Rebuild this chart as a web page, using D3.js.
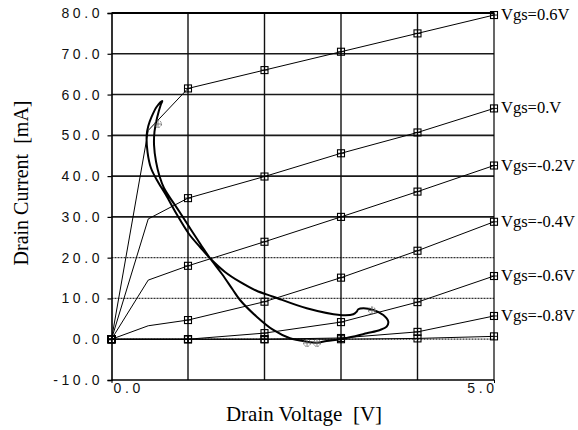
<!DOCTYPE html>
<html>
<head>
<meta charset="utf-8">
<script src="https://cdn.jsdelivr.net/npm/d3@7"></script>
<style>
  html, body { margin: 0; padding: 0; background: #fff; }
  svg { display: block; }
</style>
</head>
<body>
<svg id="chart" width="578" height="430"></svg>
<script>
// Drain voltage sweep points (V); the knee sample sits just below 0.5 V
const drainVoltage = [0, 0.48, 1, 2, 3, 4, 5];

// Drain current (mA) for each gate bias
const idVgsP06 = [0, 51.2, 61.5, 66.0, 70.5, 75.0, 79.5];
const idVgs00  = [0, 29.5, 34.6, 39.9, 45.6, 50.7, 56.6];
const idVgsM02 = [0, 14.5, 18.0, 23.9, 30.0, 36.2, 42.6];
const idVgsM04 = [0, 3.3, 4.7, 9.2, 15.1, 21.7, 28.8];
const idVgsM06 = [0, 0.0, 0.0, 1.5, 4.2, 9.1, 15.5];
const idVgsM08 = [0, 0.0, 0.0, 0.0, 0.3, 1.8, 5.7];
const idVgsM10 = [0, 0.0, 0.0, 0.0, 0.0, 0.2, 0.7];

const seriesCurrents = [idVgsP06, idVgs00, idVgsM02, idVgsM04, idVgsM06, idVgsM08, idVgsM10];
const seriesLabels = ["Vgs=0.6V", "Vgs=0.V", "Vgs=-0.2V", "Vgs=-0.4V", "Vgs=-0.6V", "Vgs=-0.8V", ""];

// Dynamic load-line trajectory (closed loop), V and mA
const loopV = [0.664, 0.643, 0.595, 0.562, 0.556, 0.582, 0.627, 0.686, 0.882, 1.033, 1.170, 1.288,
               1.444, 1.588, 1.680, 1.898, 2.115, 2.333, 2.552, 2.682, 2.813, 2.987, 3.118, 3.336,
               3.510, 3.597, 3.618, 3.553, 3.422, 3.292, 3.226, 3.205, 3.161, 2.987, 2.552, 2.115,
               1.889, 1.680, 1.484, 1.288, 1.157, 1.013, 0.843, 0.712, 0.608, 0.516, 0.471, 0.460,
               0.481, 0.525, 0.591];
const loopI = [58.42, 57.44, 54.25, 50.89, 47.63, 43.54, 40.03, 37.09, 31.45, 27.03, 23.11, 19.85,
               16.00, 12.07, 9.62, 5.53, 2.27, 0.23, -0.60, -0.85, -0.43, -0.01, 0.48, 1.46,
               2.27, 3.08, 4.30, 5.94, 7.17, 7.59, 7.34, 6.75, 6.12, 5.94, 7.59, 10.43,
               11.95, 14.04, 16.49, 19.85, 22.62, 25.81, 30.96, 35.37, 38.56, 41.99, 45.91, 50.08,
               52.29, 54.57, 57.02];
const loopMarkV = [0.608, 2.556, 2.686, 3.405];
const loopMarkI = [52.78, -0.92, -0.92, 7.05];

// Axis ticks
const xTickValues = [0, 5];
const xTickLabels = ["0.0", "5.0"];
const yTickValues = [-10, 0, 10, 20, 30, 40, 50, 60, 70, 80];
const yTickLabels = ["-10.0", "0.0", "10.0", "20.0", "30.0", "40.0", "50.0", "60.0", "70.0", "80.0"];
const xGridValues = [1, 2, 3, 4];

const svg = d3.select("#chart");
const x = d3.scaleLinear().domain([0, 5]).range([111.5, 494]);
const y = d3.scaleLinear().domain([-10, 80]).range([380, 13]);

const tickFont = "'Liberation Sans', Arial, sans-serif";
const tickSpacing = 3.6;

// Horizontal grid
const g = svg.append("g");
yTickValues.filter(v => v > -10 && v < 80).forEach(v => {
  const solid = v >= 30;
  g.append("line")
    .attr("x1", x(0)).attr("x2", x(5))
    .attr("y1", y(v)).attr("y2", y(v))
    .attr("stroke", solid ? "#1a1a1a" : "#333")
    .attr("stroke-width", solid ? 1.6 : 1.2)
    .attr("stroke-dasharray", solid ? null : "2,1");
});
// Vertical grid
xGridValues.forEach(v => {
  g.append("line")
    .attr("x1", x(v)).attr("x2", x(v))
    .attr("y1", y(80)).attr("y2", y(-10))
    .attr("stroke", "#111").attr("stroke-width", 1.4);
});

// Frame
svg.append("line").attr("x1", x(0)).attr("x2", x(5)).attr("y1", y(80)).attr("y2", y(80))
  .attr("stroke", "#000").attr("stroke-width", 1.8);
svg.append("line").attr("x1", x(0)).attr("x2", x(5)).attr("y1", y(-10)).attr("y2", y(-10))
  .attr("stroke", "#000").attr("stroke-width", 1.6);
svg.append("line").attr("x1", x(5)).attr("x2", x(5)).attr("y1", y(80)).attr("y2", y(-10))
  .attr("stroke", "#000").attr("stroke-width", 1.2);

// Axes
const yAxis = d3.axisLeft(y).tickValues(yTickValues)
  .tickFormat((d, i) => yTickLabels[i]).tickSize(4).tickPadding(10);
const yAxisG = svg.append("g").attr("transform", `translate(${x(0)},0)`).call(yAxis);
yAxisG.select(".domain").attr("stroke", "#000").attr("stroke-width", 1.6);
yAxisG.selectAll(".tick line").attr("stroke", "#000").attr("stroke-width", 1.2);
yAxisG.selectAll(".tick text")
  .attr("font-family", tickFont)
  .attr("font-size", 14).attr("letter-spacing", tickSpacing + "px")
  .attr("fill", "#111").attr("x", -12 + tickSpacing);

const xAxis = d3.axisBottom(x).tickValues(xTickValues)
  .tickFormat((d, i) => xTickLabels[i]).tickSize(3).tickPadding(2);
const xAxisG = svg.append("g").attr("transform", `translate(0,${y(-10)})`).call(xAxis);
xAxisG.select(".domain").remove();
xAxisG.selectAll(".tick line").attr("stroke", "#000");
xAxisG.selectAll(".tick text")
  .attr("font-family", tickFont)
  .attr("font-size", 14).attr("letter-spacing", tickSpacing + "px").attr("fill", "#111")
  .attr("text-anchor", (d, i) => i === 0 ? "start" : "end")
  .attr("x", (d, i) => i === 0 ? 1.5 : tickSpacing - 0.5)
  .attr("dy", "0.71em").attr("y", 3);

// Characteristic curves
const line = d3.line().x(d => x(d[0])).y(d => y(d[1]));
const markerSize = 7;
seriesCurrents.forEach((cur, si) => {
  const pts = drainVoltage.map((v, i) => [v, cur[i]]);
  svg.append("path").datum(pts).attr("d", line)
    .attr("fill", "none").attr("stroke", "#000").attr("stroke-width", 1);
  const mk = svg.append("g");
  pts.filter(p => Number.isInteger(p[0])).forEach(p => {
    const cx = x(p[0]), cy = y(p[1]), h = markerSize / 2;
    mk.append("rect").attr("x", cx - h).attr("y", cy - h)
      .attr("width", markerSize).attr("height", markerSize)
      .attr("fill", "none").attr("stroke", "#000").attr("stroke-width", 1.1);
    mk.append("path").attr("d", `M${cx - h},${cy}H${cx + h}M${cx},${cy - h}V${cy + h}`)
      .attr("stroke", "#000").attr("stroke-width", 0.9);
  });
  if (seriesLabels[si]) {
    const last = pts[pts.length - 1];
    svg.append("text")
      .attr("x", x(last[0]) + 7).attr("y", y(last[1]) + 5)
      .attr("font-family", "'Liberation Serif', 'Times New Roman', serif")
      .attr("font-size", 16.5).attr("fill", "#000")
      .text(seriesLabels[si]);
  }
});

// Load-line loop
const loopPts = loopV.map((v, i) => [v, loopI[i]]);
svg.append("path").datum(loopPts)
  .attr("d", d3.line().x(d => x(d[0])).y(d => y(d[1])).curve(d3.curveCatmullRomClosed.alpha(0.5)))
  .attr("fill", "none").attr("stroke", "#000").attr("stroke-width", 2);
loopMarkV.forEach((v, i) => {
  const cx = x(v), cy = y(loopMarkI[i]), r = 3.5;
  svg.append("circle").attr("cx", cx).attr("cy", cy).attr("r", r)
    .attr("fill", "none").attr("stroke", "#666").attr("stroke-width", 0.9)
    .attr("stroke-dasharray", "2,1");
  svg.append("path").attr("d", `M${cx - r},${cy}H${cx + r}M${cx},${cy - r}V${cy + r}`)
    .attr("stroke", "#666").attr("stroke-width", 0.8);
});

// Axis titles
svg.append("text")
  .attr("x", 304).attr("y", 420.5)
  .attr("text-anchor", "middle")
  .attr("font-family", "'Liberation Serif', 'Times New Roman', serif")
  .attr("font-size", 21).attr("fill", "#000")
  .attr("xml:space", "preserve")
  .text("Drain Voltage  [V]");
svg.append("text")
  .attr("transform", "translate(28,183) rotate(-90)")
  .attr("text-anchor", "middle")
  .attr("font-family", "'Liberation Serif', 'Times New Roman', serif")
  .attr("font-size", 20).attr("fill", "#000")
  .attr("xml:space", "preserve")
  .text("Drain Current  [mA]");
</script>
</body>
</html>
